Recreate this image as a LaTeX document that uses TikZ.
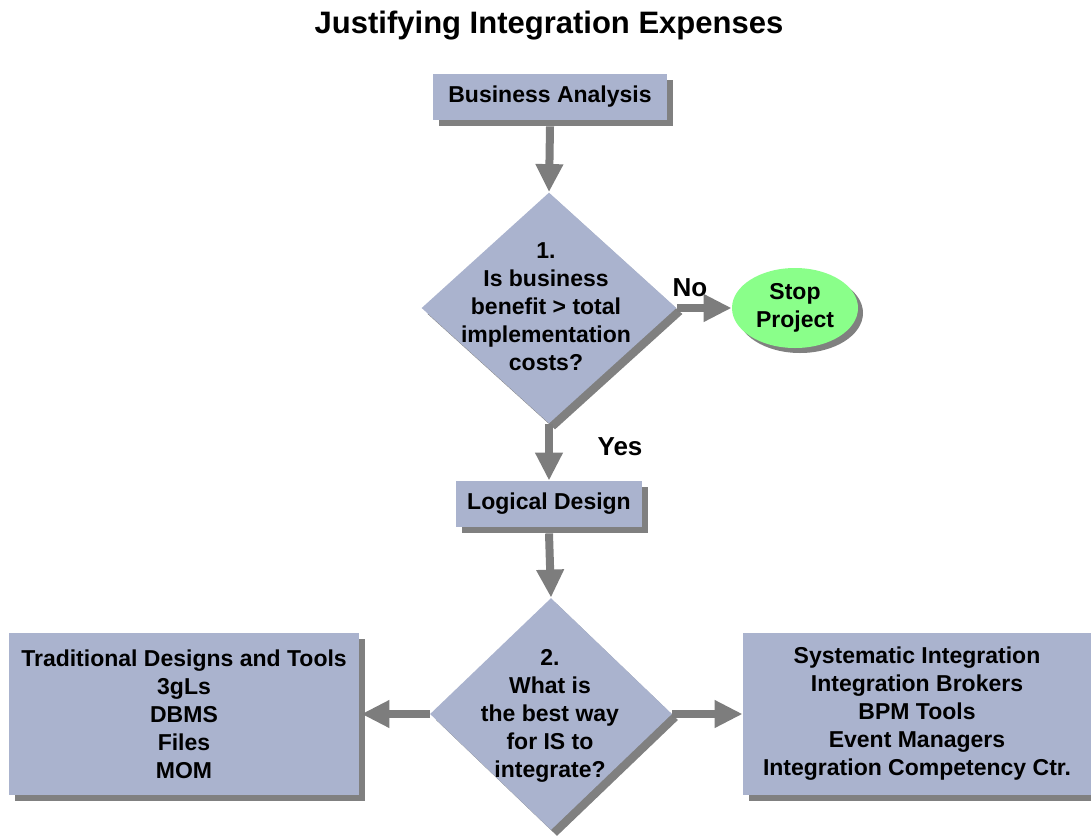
\documentclass[tikz,border=0pt]{standalone}
\usepackage{fontspec}
\setmainfont{Liberation Sans}
\usetikzlibrary{shapes.geometric,shadows,arrows.meta}

\definecolor{boxblue}{RGB}{170,179,206}
\definecolor{shadowgray}{RGB}{128,128,128}
\definecolor{arrowgray}{RGB}{125,125,125}
\definecolor{stopgreen}{RGB}{138,255,138}

\tikzset{
  flowbox/.style={rectangle,fill=boxblue,inner sep=0pt,align=center,
    drop shadow={shadow xshift=3pt,shadow yshift=-3pt,fill=shadowgray,opacity=1}},
  question/.style={diamond,fill=boxblue,inner sep=0pt,
    drop shadow={shadow xshift=3pt,shadow yshift=-3pt,fill=shadowgray,opacity=1}},
  stopnode/.style={ellipse,fill=stopgreen,inner sep=0pt,align=center,
    drop shadow={shadow xshift=2.5pt,shadow yshift=-2.5pt,fill=shadowgray,opacity=1}},
  flowarrow/.style={line width=4pt,draw=arrowgray,
    -{Triangle[width=13pt,length=14pt,fill=arrowgray]}},
  txt/.style={font=\fontsize{11.5pt}{14pt}\selectfont\bfseries,align=center},
  answer/.style={font=\fontsize{13pt}{15pt}\selectfont\bfseries}
}

\begin{document}
\begin{tikzpicture}[x=0.5pt,y=-0.5pt]

        \useasboundingbox (0,0) rectangle (1091,835);

        \node[font=\fontsize{15.5pt}{18pt}\selectfont\bfseries] (title) at (549,26) {Justifying Integration Expenses};

        \begin{scope}[every node/.style={txt}]
          \node[flowbox,minimum width=117pt,minimum height=23pt] (ba) at (550,97) {Business Analysis};
          \node[question,minimum width=127.5pt,minimum height=115.5pt] (q1) at (549,308) {};
          \node (q1txt) at (546,307) {1.\\Is business\\benefit > total\\implementation\\costs?};
          \node[stopnode,minimum width=63pt,minimum height=40pt] (stop) at (795,308) {Stop\\Project};
          \node[flowbox,minimum width=93pt,minimum height=23pt] (ld) at (549,504) {Logical Design};
          \node[question,minimum width=121pt,minimum height=116pt] (q2) at (551,714) {};
          \node (q2txt) at (550,716) {2.\\What is\\the best way\\for IS to\\integrate?};
          \node[flowbox,minimum width=175pt,minimum height=81pt] (trad) at (184,714)
            {Traditional Designs and Tools\\3gLs\\DBMS\\Files\\MOM};
          \node[flowbox,minimum width=174pt,minimum height=81pt] (sys) at (917,714)
            {Systematic Integration\\Integration Brokers\\BPM Tools\\Event Managers\\Integration Competency Ctr.};
          \node[answer] (no)  at (690,288) {No};
          \node[answer] (yes) at (620,447) {Yes};
        \end{scope}

        \begin{scope}[every path/.style={flowarrow}]
          \draw ([yshift=-3pt]ba.south) -- (q1.north);
          \draw (q1.east) -- (stop.west);
          \draw (q1.south) -- (ld.north);
          \draw ([yshift=-3pt]ld.south) -- (q2.north);
          \draw (q2.west) -- ([xshift=1pt]trad.east);
          \draw (q2.east) -- (sys.west);
        \end{scope}

      \end{tikzpicture}
\end{document}
